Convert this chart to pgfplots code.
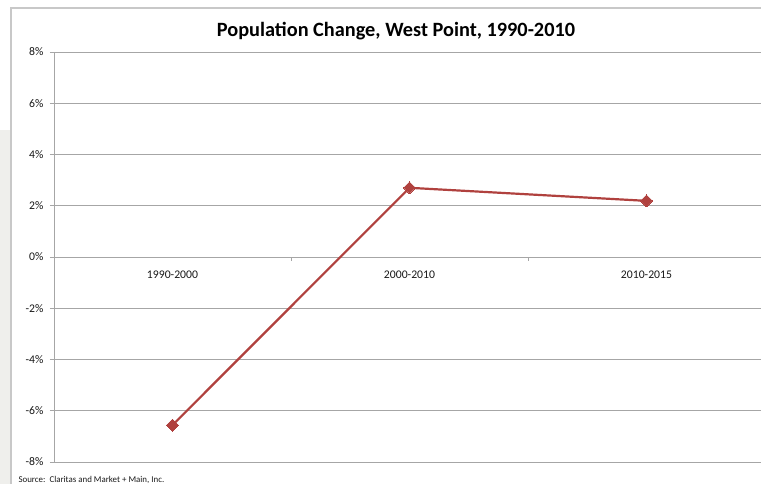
\documentclass[border=0pt]{standalone}
\usepackage{fontspec}
\setmainfont{Carlito}
\usepackage{pgfplots}
\pgfplotsset{compat=1.18}
\definecolor{gridgray}{HTML}{A6A6A6}
\definecolor{framegray}{HTML}{C8C8C8}
\definecolor{linered}{HTML}{B0413E}
\definecolor{slidegray}{HTML}{EFEFEC}

\begin{document}
\begin{tikzpicture}[x=1pt,y=1pt]
\useasboundingbox (0,0) rectangle (761,484);
\clip (0,0) rectangle (761,484);
\fill[white] (0,0) rectangle (761,484);
\fill[slidegray] (0,0) rectangle (11,354);
\draw[framegray, line width=1.2pt] (11,-20) rectangle (800,476);

\node[anchor=base, font=\bfseries\fontsize{20.3}{23}\selectfont] at (396,447)
  {Population Change, West Point, 1990-2010};

\begin{axis}[
  at={(54pt,22pt)}, anchor=south west,
  scale only axis, width=711pt, height=410pt,
  xmin=0, xmax=3, ymin=-8, ymax=8,
  axis y line*=left, axis x line*=middle,
  axis line style={gridgray, line width=0.9pt},
  tick align=outside,
  major tick length=4pt,
  tick style={gridgray, line width=0.9pt},
  xtick={1,2}, xticklabels={},
  extra x ticks={0.5,1.5,2.5},
  extra x tick labels={1990-2000,2000-2010,2010-2015},
  extra x tick style={major tick length=0pt, grid=none,
    xticklabel style={yshift=-10pt}},
  ytick={-8,-6,-4,-2,0,2,4,6,8},
  yticklabels={-8\%,-6\%,-4\%,-2\%,0\%,2\%,4\%,6\%,8\%},
  ymajorgrids,
  grid style={gridgray, line width=0.9pt},
  ticklabel style={font=\fontsize{11.7}{14}\selectfont, text=black!90},
  yticklabel style={xshift=-3pt},
  clip=false,
]
\addplot[linered, line width=2.2pt, mark=square*, mark size=4.2pt,
  mark options={rotate=45, fill=linered, line width=0pt}]
  coordinates {(0.5,-6.56) (1.5,2.70) (2.5,2.19)};
\end{axis}

\node[anchor=base west, font=\fontsize{8.9}{10}\selectfont, text=black!90] at (15,1.5)
  {Source:\ \ Claritas and Market + Main, Inc.};
\end{tikzpicture}
\end{document}
